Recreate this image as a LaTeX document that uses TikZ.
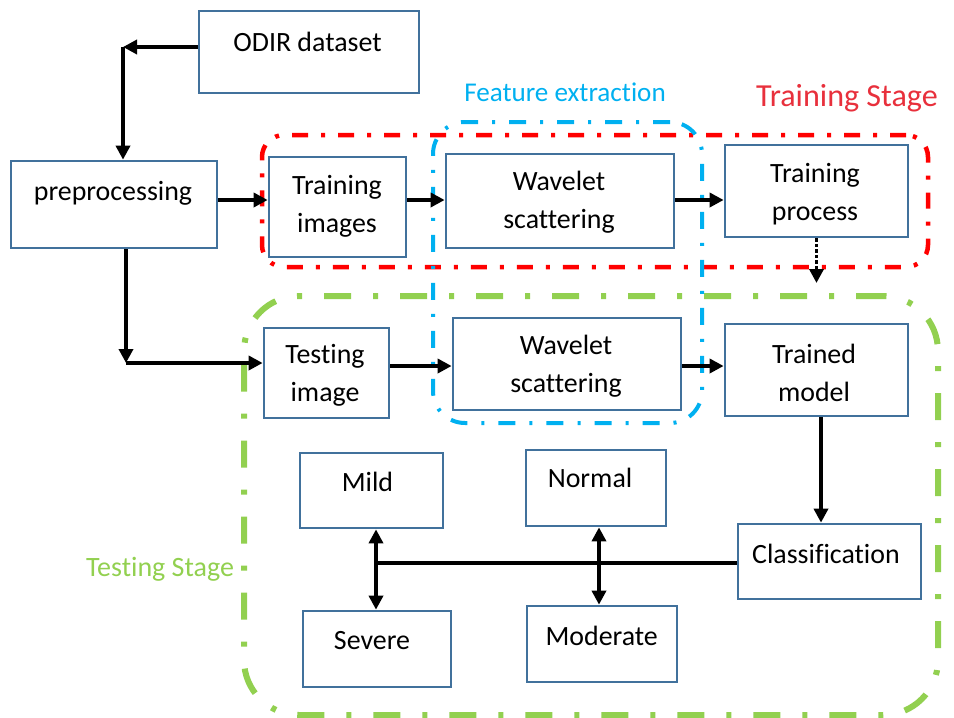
\documentclass[tikz,border=0pt]{standalone}
\usepackage{fontspec}
\setmainfont{Carlito}[Ligatures=CommonOff]
\usetikzlibrary{arrows.meta}
\definecolor{boxblue}{RGB}{65,113,156}
\definecolor{redline}{RGB}{255,0,0}
\definecolor{redtext}{RGB}{232,48,60}
\definecolor{cyanline}{RGB}{0,176,240}
\definecolor{greenline}{RGB}{146,208,80}
\begin{document}
\begin{tikzpicture}[x=1pt,y=-1pt,
  box/.style={draw=boxblue, line width=2.7pt, fill=white, inner sep=0pt, rectangle},
  txt/.style={font=\fontsize{27.9}{38}\selectfont, align=center, inner sep=0pt, text=black},
  conn/.style={line width=4pt, -{Triangle[length=14pt,width=14pt]}},
  dconn/.style={line width=4pt, {Triangle[length=14pt,width=14pt]}-{Triangle[length=14pt,width=14pt]}},
  dotconn/.style={line width=3.5pt, dotted, -{Triangle[length=14pt,width=14pt]}},
  plainline/.style={line width=4pt},
  redregion/.style={draw=redline, line width=4.5pt, dash pattern=on 16pt off 13pt on 4pt off 13pt, rounded corners=22pt, inner sep=0pt},
  cyanregion/.style={draw=cyanline, line width=4pt, dash pattern=on 17pt off 14pt on 3pt off 14pt, rounded corners=32pt, inner sep=0pt},
  greenregion/.style={draw=greenline, line width=6pt, dash pattern=on 27pt off 22pt on 5pt off 22pt, rounded corners=55pt, inner sep=0pt},
]
\useasboundingbox (0,0) rectangle (954,718);

% regions
\node[greenregion, minimum width=694pt, minimum height=419pt] (testreg) at (591,505.5) {};
\node[redregion, minimum width=666pt, minimum height=132pt] (trainreg) at (595,201) {};
\node[cyanregion, minimum width=269pt, minimum height=301pt] (featreg) at (567.5,272.5) {};

% region labels
\node[font=\fontsize{27.1}{32}\selectfont, text=cyanline, inner sep=0pt] (felab) at (565,92) {Feature extraction};
\node[font=\fontsize{32.1}{36}\selectfont, text=redtext, inner sep=0pt] (trlab) at (847,98) {Training Stage};
\node[font=\fontsize{28}{32}\selectfont, text=greenline, inner sep=0pt] (telab) at (160,569) {Testing Stage};

% boxes
\node[box, minimum width=220pt, minimum height=82pt] (odir) at (309,52) {};
\node[box, minimum width=206pt, minimum height=87pt] (pre) at (114,204.5) {};
\node[box, minimum width=137pt, minimum height=100pt] (trimg) at (337.5,207) {};
\node[box, minimum width=228pt, minimum height=94pt] (wav1) at (560,201) {};
\node[box, minimum width=183pt, minimum height=92pt] (trp) at (816.5,191) {};
\node[box, minimum width=125pt, minimum height=90pt] (teimg) at (326.5,373) {};
\node[box, minimum width=228pt, minimum height=92pt] (wav2) at (567,364) {};
\node[box, minimum width=183pt, minimum height=92pt] (trm) at (816.5,370) {};
\node[box, minimum width=143pt, minimum height=75pt] (mild) at (371.5,490.5) {};
\node[box, minimum width=148pt, minimum height=76pt] (severe) at (377,649) {};
\node[box, minimum width=140pt, minimum height=76pt] (normal) at (596,488) {};
\node[box, minimum width=150pt, minimum height=76pt] (moderate) at (602,644) {};
\node[box, minimum width=183pt, minimum height=75pt] (cls) at (829.5,561.5) {};

% texts
\node[txt] (odir-t) at (307.5,42) {ODIR dataset};
\node[txt] (pre-t) at (113,193) {preprocessing};
\node[txt] (trimg-t) at (337,206.5) {Training\\images};
\node[txt] (wav1-t) at (559,202.5) {Wavelet\\scattering};
\node[txt] (trp-t) at (815,194) {Training\\process};
\node[txt] (teimg-t) at (325,375) {Testing\\image};
\node[txt] (wav2-t) at (566,366.5) {Wavelet\\scattering};
\node[txt] (trm-t) at (814,372.5) {Trained\\model};
\node[txt] (mild-t) at (367.5,482) {Mild};
\node[txt] (severe-t) at (372,641) {Severe};
\node[txt] (normal-t) at (590,478) {Normal};
\node[txt] (moderate-t) at (601.7,636) {Moderate};
\node[txt] (cls-t) at (826,554) {Classification};

% connectors
\coordinate (c1) at (123,47);
\draw[conn] (odir.west |- c1) -- (c1);
\draw[conn] (c1) -- (c1 |- pre.north);

\coordinate (r1) at (0,200);
\draw[conn] (pre.east |- r1) -- (trimg.west |- r1);
\draw[conn] (trimg.east |- r1) -- (wav1.west |- r1);
\draw[conn] (wav1.east |- r1) -- (trp.west |- r1);
\coordinate (d1) at (0,283);
\draw[dotconn] (trp.south) -- (trp.south |- d1);

\coordinate (c3) at (126,363);
\draw[conn] (c3 |- pre.south) -- (c3);
\draw[conn] (c3) -- (c3 -| teimg.west);

\coordinate (r2) at (0,366);
\draw[conn] (teimg.east |- r2) -- (wav2.west |- r2);
\draw[conn] (wav2.east |- r2) -- (trm.west |- r2);

\coordinate (k1) at (821,0);
\draw[conn] (trm.south -| k1) -- (cls.north -| k1);

\coordinate (j1) at (376,562.5);
\coordinate (j2) at (599,562.5);
\draw[plainline] (cls.west |- j1) -- (j1);
\draw[dconn] (mild.south -| j1) -- (severe.north -| j1);
\draw[dconn] (normal.south -| j2) -- (moderate.north -| j2);
\end{tikzpicture}
\end{document}
